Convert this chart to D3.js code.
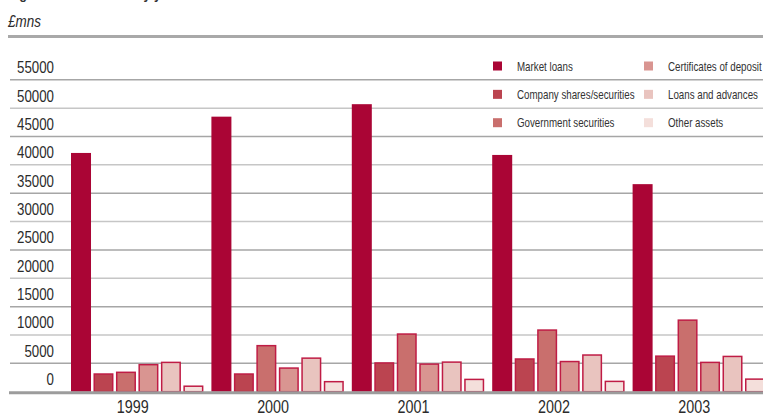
<!DOCTYPE html>
<html>
<head>
<meta charset="utf-8">
<script src="https://cdn.jsdelivr.net/npm/d3@7/dist/d3.min.js"></script>
<style>
  html, body { margin: 0; padding: 0; background: #fff; }
  svg { display: block; }
  text { font-family: "Liberation Sans", Arial, sans-serif; fill: #2b2b2b; }
</style>
</head>
<body>
<svg id="chart" width="763" height="416"></svg>
<script>
// Assets by year end, £ millions
const years = ["1999", "2000", "2001", "2002", "2003"];
const seriesNames = [
  "Market loans",
  "Company shares/securities",
  "Government securities",
  "Certificates of deposit",
  "Loans and advances",
  "Other assets"
];
const marketLoans      = [42100, 48500, 50700, 41750, 36600];
const companyShares    = [3250, 3250, 5200, 5900, 6400];
const governmentSecs   = [3550, 8250, 10300, 11000, 12750];
const certificates     = [4900, 4300, 5000, 5450, 5300];
const loansAdvances    = [5300, 6050, 5350, 6600, 6350];
const otherAssets      = [1100, 1900, 2300, 1950, 2350];
const yTicks = [0, 5000, 10000, 15000, 20000, 25000, 30000, 35000, 40000, 45000, 50000, 55000];

const seriesValues = [marketLoans, companyShares, governmentSecs, certificates, loansAdvances, otherAssets];
const colors = ["#aa0535", "#bb4450", "#c96f6d", "#d99591", "#e9c4bf", "#f4dfdb"];

const svg = d3.select("#chart");
const W = 763;

const y = d3.scaleLinear().domain([0, 55000]).range([391.7, 79.8]);

const x0 = d3.scaleBand().domain(years)
  .range([67, 769]).paddingInner(0.057).paddingOuter(0.0285);
const x1 = d3.scaleBand().domain(d3.range(seriesNames.length))
  .range([0, x0.bandwidth()]).paddingInner(0.11).paddingOuter(0);

// Condensed lettering: place text at (x, y) and squeeze it horizontally
function narrow(sel, sx) {
  return sel.attr("transform", function () {
    const t = d3.select(this);
    return `translate(${t.attr("data-x")},${t.attr("data-y")}) scale(${sx},1)`;
  });
}

// Title (runs off the top edge)
svg.append("text")
  .attr("data-x", 8).attr("data-y", -1.5)
  .style("font-size", "15px").style("font-weight", "bold")
  .style("fill", "#333")
  .text("Figure 2  Assets held by year end")
  .call(narrow, 0.85);

// Unit label and top rule
svg.append("text")
  .attr("data-x", 8).attr("data-y", 27)
  .style("font-size", "16px").style("font-style", "italic")
  .text("£mns")
  .call(narrow, 0.84);
svg.append("line")
  .attr("x1", 8).attr("x2", W).attr("y1", 36.5).attr("y2", 36.5)
  .attr("stroke", "#a9a9a9").attr("stroke-width", 3);

// Gridlines with labels sitting just above each line
const grid = svg.append("g");
yTicks.filter(d => d > 0).forEach((t, i) => {
  grid.append("line")
    .attr("x1", 10).attr("x2", W)
    .attr("y1", y(t)).attr("y2", y(t))
    .attr("stroke", i % 2 === 0 ? "#a6a6a6" : "#c6c6c6")
    .attr("stroke-width", 1.5);
});
svg.append("g").selectAll("text").data(yTicks).join("text")
  .attr("data-x", 54).attr("data-y", d => y(d) - 6.5)
  .attr("text-anchor", "end")
  .style("font-size", "16px")
  .text(d => d)
  .call(narrow, 0.83);

// Bars
const groups = svg.append("g").selectAll("g").data(years).join("g")
  .attr("transform", d => `translate(${x0(d)},0)`);
groups.selectAll("rect")
  .data((yr, yi) => seriesValues.map((vals, si) => ({ si, v: vals[yi] })))
  .join("rect")
  .attr("x", d => x1(d.si) + (d.si === 0 ? 0 : 0.75))
  .attr("width", d => x1.bandwidth() - (d.si === 0 ? 0 : 1.5))
  .attr("y", d => y(d.v) + (d.si === 0 ? 0 : 0.75))
  .attr("height", d => y(0) - y(d.v) - (d.si === 0 ? 0 : 0.75))
  .attr("fill", d => colors[d.si])
  .attr("stroke", d => d.si === 0 ? "none" : "#bf1c45")
  .attr("stroke-width", 1.5);

// Baseline
svg.append("line")
  .attr("x1", 9).attr("x2", W).attr("y1", y(0) + 1).attr("y2", y(0) + 1)
  .attr("stroke", "#9c9c9c").attr("stroke-width", 3);

// Year labels
svg.append("g").selectAll("text").data(years).join("text")
  .attr("data-x", d => x0(d) + x0.bandwidth() / 2 - 4.5)
  .attr("data-y", 413)
  .attr("text-anchor", "middle")
  .style("font-size", "17.5px")
  .text(d => d)
  .call(narrow, 0.82);

// Legend: two columns, three rows aligned to the upper gridlines
const legend = svg.append("g");
seriesNames.forEach((name, i) => {
  const col = Math.floor(i / 3), row = i % 3;
  const sx = col === 0 ? 493 : 644;
  const cy = 66 + row * 28.35;
  legend.append("rect")
    .attr("x", sx).attr("y", cy - 4.5)
    .attr("width", 9).attr("height", 9)
    .attr("fill", colors[i]);
  legend.append("text")
    .attr("data-x", sx + 24).attr("data-y", cy + 4.5)
    .style("font-size", "13px")
    .style("fill", "#333")
    .text(name)
    .call(narrow, 0.75);
});
</script>
</body>
</html>
